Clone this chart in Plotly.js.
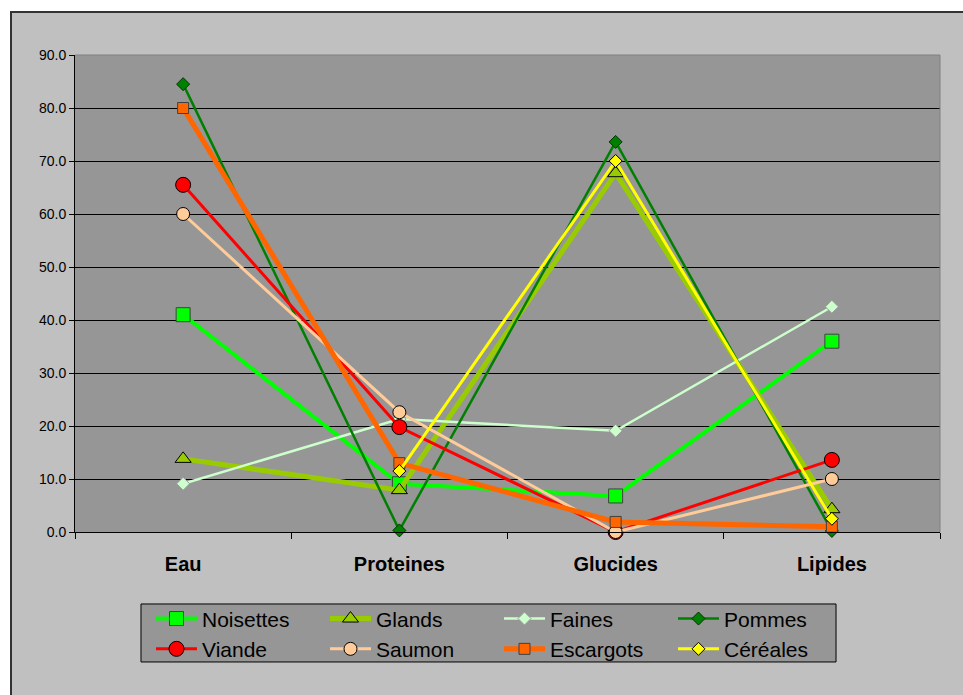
<!DOCTYPE html>
<html>
<head>
<meta charset="utf-8">
<script src="https://cdn.plot.ly/plotly-3.0.1.min.js"></script>
<style>
  html, body { margin: 0; padding: 0; background: #ffffff; width: 963px; height: 695px; overflow: hidden; }
  #frame { position: absolute; left: 10px; top: 11px; width: 960px; height: 690px; background: #C0C0C0; border-left: 2px solid #333; border-top: 2px solid #333; }
  #chart { position: absolute; left: 0; top: 0; width: 963px; height: 695px; }
</style>
</head>
<body>
<div id="frame"></div>
<div id="chart"></div>
<script>
const categories = ["Eau", "Proteines", "Glucides", "Lipides"];
const yTickVals = [0, 10, 20, 30, 40, 50, 60, 70, 80, 90];

const noisettes = [41.0, 9.1, 6.8, 36.0];
const glands    = [13.8, 7.9, 67.7, 4.3];
const faines    = [9.1, 21.3, 19.1, 42.5];
const pommes    = [84.5, 0.3, 73.6, 0.2];
const viande    = [65.5, 19.8, 0.0, 13.6];
const saumon    = [60.0, 22.6, 0.0, 10.0];
const escargots = [80.0, 13.0, 1.9, 1.0];
const cereales  = [null, 11.5, 70.0, 2.5];

const seriesDefs = [
  {name: "Noisettes", y: noisettes, color: "#00FF00", width: 4,   symbol: "square",       size: 14, lc: "#404040"},
  {name: "Glands",    y: glands,    color: "#99CC00", width: 5,   symbol: "triangle-up",  size: 14, lc: "#000000"},
  {name: "Faines",    y: faines,    color: "#CCFFCC", width: 2.5, symbol: "diamond",      size: 10, lc: "#999999"},
  {name: "Pommes",    y: pommes,    color: "#008000", width: 2.5, symbol: "diamond",      size: 10, lc: "#003300"},
  {name: "Viande",    y: viande,    color: "#FF0000", width: 3,   symbol: "circle",       size: 15, lc: "#000000"},
  {name: "Saumon",    y: saumon,    color: "#FFCC99", width: 3,   symbol: "circle",       size: 13, lc: "#000000"},
  {name: "Escargots", y: escargots, color: "#FF6600", width: 5,   symbol: "square",       size: 11, lc: "#404040"},
  {name: "Céréales",  y: cereales,  color: "#FFFF00", width: 3,   symbol: "diamond",      size: 10, lc: "#000000"}
];

const traces = seriesDefs.map(s => ({
  type: "scatter",
  mode: "lines+markers",
  name: s.name,
  x: categories,
  y: s.y,
  connectgaps: false,
  line: {color: s.color, width: s.width},
  marker: {symbol: s.symbol, size: s.size, color: s.color, line: {color: s.lc, width: 1}},
  cliponaxis: false
}));

const layout = {
  width: 963,
  height: 695,
  margin: {l: 75, r: 23, t: 55, b: 163, autoexpand: false},
  paper_bgcolor: "rgba(0,0,0,0)",
  plot_bgcolor: "#969696",
  font: {family: "Liberation Sans, Arial, sans-serif", color: "#000"},
  showlegend: true,
  xaxis: {
    type: "category",
    range: [-0.5, 3.5],
    showgrid: false,
    zeroline: false,
    showline: true,
    linecolor: "#000",
    linewidth: 1,
    ticks: "outside",
    tickson: "boundaries",
    ticklen: 6,
    tickcolor: "#000",
    tickfont: {size: 20, family: "Liberation Sans, Arial, sans-serif", weight: "bold", color: "#000"},
    ticklabelstandoff: 14,
    automargin: false
  },
  yaxis: {
    range: [0, 90],
    tickvals: yTickVals,
    tickformat: ".1f",
    showgrid: true,
    gridcolor: "#000",
    gridwidth: 1,
    zeroline: false,
    showline: true,
    linecolor: "#000",
    linewidth: 1,
    ticks: "outside",
    ticklen: 5,
    tickcolor: "#000",
    tickfont: {size: 14, color: "#000"},
    automargin: false
  },
  shapes: [
    {type: "line", xref: "paper", yref: "paper", x0: 0, x1: 1, y0: 1, y1: 1, line: {color: "#808080", width: 1}},
    {type: "line", xref: "paper", yref: "paper", x0: 1, x1: 1, y0: 0, y1: 1, line: {color: "#808080", width: 1}},
    {type: "rect", xref: "paper", yref: "paper", layer: "below",
     x0: 0.0763, x1: 0.8798, y0: -0.1509, y1: -0.2725,
     fillcolor: "#969696", line: {color: "#000", width: 1}}
  ],
  legend: {
    orientation: "h",
    xref: "container",
    yref: "container",
    x: 0.1568,
    xanchor: "left",
    y: 0.139,
    yanchor: "top",
    bgcolor: "rgba(0,0,0,0)",
    borderwidth: 0,
    font: {size: 21, color: "#000"},
    entrywidth: 118,
    entrywidthmode: "pixels",
    itemwidth: 41,
    tracegroupgap: 0,
    traceorder: "normal"
  }
};

Plotly.newPlot("chart", traces, layout, {displayModeBar: false, staticPlot: true});
</script>
</body>
</html>
